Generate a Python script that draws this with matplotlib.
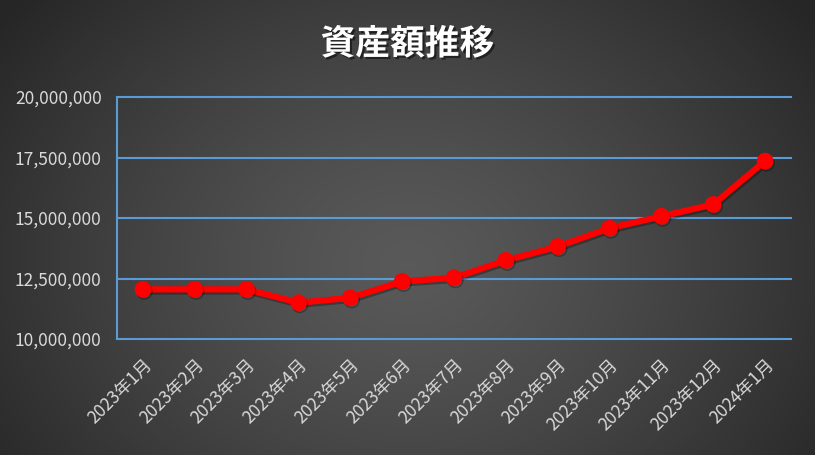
"""資産額推移 — monthly asset total, dark Excel-style chart."""

import matplotlib
matplotlib.use("Agg")
import matplotlib.pyplot as plt
import matplotlib.patheffects as pe
import numpy as np
from matplotlib.ticker import FuncFormatter

plt.rcParams["font.family"] = ["Noto Sans CJK JP", "DejaVu Sans"]

months = ["2023年1月", "2023年2月", "2023年3月", "2023年4月", "2023年5月",
          "2023年6月", "2023年7月", "2023年8月", "2023年9月", "2023年10月",
          "2023年11月", "2023年12月", "2024年1月"]
assets = [12050000, 12050000, 12050000, 11500000, 11700000, 12380000,
          12530000, 13250000, 13820000, 14580000, 15070000, 15560000,
          17350000]
y_ticks = [10000000, 12500000, 15000000, 17500000, 20000000]

W, H, DPI = 815, 455, 100
fig = plt.figure(figsize=(W / DPI, H / DPI), dpi=DPI)

# radial gradient background
bg = fig.add_axes([0, 0, 1, 1], zorder=-10)
yy, xx = np.mgrid[0:H, 0:W]
r = np.sqrt(((xx - W * 0.5) / (W * 0.62)) ** 2 + ((yy - H * 0.58) / (H * 0.9)) ** 2)
r = np.clip(r, 0, 1)
shade = 0.35 - (0.35 - 0.15) * r ** 1.3
bg.imshow(np.dstack([shade] * 3), aspect="auto", extent=[0, 1, 0, 1])
bg.set_axis_off()

ax = fig.add_axes([117 / W, 1 - 339 / H, (791 - 117) / W, (339 - 97) / H])
ax.patch.set_alpha(0)
x = np.arange(len(months))
ax.plot(x, assets, color="#ff0000", lw=4.5, marker="o", ms=11, zorder=5,
        path_effects=[pe.SimpleLineShadow(offset=(1, -1.5), shadow_color="black", alpha=0.3),
                      pe.Normal()])

ax.set_xlim(-0.5, len(months) - 0.5)
ax.set_ylim(10000000, 20000000)
ax.set_yticks(y_ticks)
ax.yaxis.set_major_formatter(FuncFormatter(lambda v, _: f"{int(v):,}"))
ax.set_xticks(x)
ax.set_xticklabels(months, rotation=45, ha="right", rotation_mode="anchor")

grid_c = "#5b9bd5"
for t in y_ticks:
    ax.axhline(t, color=grid_c, lw=1.5, zorder=1, clip_on=False)
for s in ["top", "right", "bottom"]:
    ax.spines[s].set_visible(False)
ax.spines["left"].set_color(grid_c)
ax.spines["left"].set_linewidth(1.5)
ax.tick_params(axis="both", length=0, colors="#d9d9d9", labelsize=12.5)
ax.tick_params(axis="y", pad=11)
ax.tick_params(axis="x", pad=12)

fig.text(0.5, 1 - 44 / H, "資産額推移", ha="center", va="center", color="white",
         fontsize=25, fontweight="bold",
         path_effects=[pe.withSimplePatchShadow(offset=(1.5, -1.5), shadow_rgbFace="black", alpha=0.5)])

fig.savefig("out.png", dpi=DPI)
